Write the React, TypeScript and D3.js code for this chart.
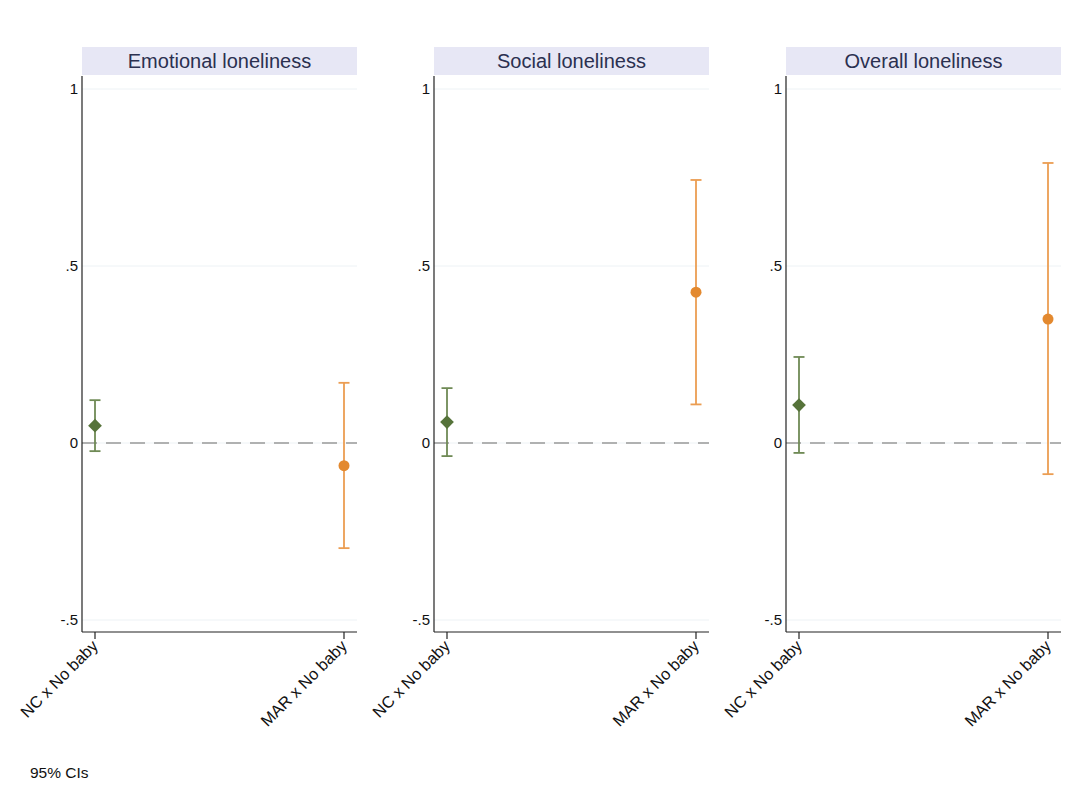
import React from "react";
import * as d3 from "d3";

// Estimates with 95% confidence intervals for each outcome
const panels = ["Emotional loneliness", "Social loneliness", "Overall loneliness"];
const groups = ["NC x No baby", "MAR x No baby"];
const estimates = [
  [0.049, -0.064],
  [0.059, 0.426],
  [0.107, 0.35],
];
const lowerCI = [
  [-0.023, -0.297],
  [-0.037, 0.109],
  [-0.028, -0.088],
];
const upperCI = [
  [0.121, 0.17],
  [0.155, 0.743],
  [0.243, 0.791],
];
const yTicks = [-0.5, 0, 0.5, 1];
const yTickLabels = ["-.5", "0", ".5", "1"];

const W = 1086;
const H = 796;
const panelLeft = [82, 434, 786];
const panelWidth = 275;
const titleTop = 47;
const titleBottom = 75;
const plotTop = 76;
const plotBottom = 632;
const groupColors = ["#56733a", "#e3892f"];
const ciColors = ["#6f8a55", "#eb9d52"];
const font = "'Liberation Sans', Arial, Helvetica, sans-serif";

const y = d3.scaleLinear().domain([-0.5, 1]).range([620, 89]);

function Panel({ idx }: { idx: number }) {
  const left = panelLeft[idx];
  const x = d3
    .scalePoint<string>()
    .domain(groups)
    .range([left + 13, left + 262]);
  const diamond = d3.symbol().type(d3.symbolDiamond2).size(120)();
  return (
    <g>
      <rect x={left} y={titleTop} width={panelWidth} height={titleBottom - titleTop} fill="#e7e7f5" />
      <text
        x={left + panelWidth / 2}
        y={(titleTop + titleBottom) / 2 + 7}
        textAnchor="middle"
        fontSize={20}
        fill="#2b3050"
        fontFamily={font}
      >
        {panels[idx]}
      </text>
      {yTicks.map((t) => (
        <line key={t} x1={left} x2={left + panelWidth} y1={y(t)} y2={y(t)} stroke="#edf2f5" strokeWidth={1} />
      ))}
      <line
        x1={left}
        x2={left + panelWidth}
        y1={y(0)}
        y2={y(0)}
        stroke="#999"
        strokeWidth={1.6}
        strokeDasharray="15 9"
      />
      <line x1={left} x2={left} y1={plotTop} y2={plotBottom} stroke="#222" strokeWidth={1.2} />
      <line x1={left} x2={left + panelWidth} y1={plotBottom} y2={plotBottom} stroke="#222" strokeWidth={1.2} />
      {yTicks.map((t, i) => (
        <text key={t} x={left - 4} y={y(t) + 5} textAnchor="end" fontSize={15} fill="#111" fontFamily={font}>
          {yTickLabels[i]}
        </text>
      ))}
      {groups.map((g, gi) => {
        const cx = x(g)!;
        return (
          <g key={g}>
            <line x1={cx} x2={cx} y1={plotBottom} y2={plotBottom + 7} stroke="#222" strokeWidth={1.2} />
            <text
              transform={`translate(${cx + 4},${plotBottom + 15}) rotate(-45)`}
              textAnchor="end"
              fontSize={16.3}
              fill="#111"
              fontFamily={font}
            >
              {g}
            </text>
            <line
              x1={cx}
              x2={cx}
              y1={y(lowerCI[idx][gi])}
              y2={y(upperCI[idx][gi])}
              stroke={ciColors[gi]}
              strokeWidth={1.8}
            />
            {[lowerCI[idx][gi], upperCI[idx][gi]].map((v, k) => (
              <line key={k} x1={cx - 5.5} x2={cx + 5.5} y1={y(v)} y2={y(v)} stroke={ciColors[gi]} strokeWidth={1.8} />
            ))}
            {gi === 0 ? (
              <path d={diamond!} transform={`translate(${cx},${y(estimates[idx][gi])})`} fill={groupColors[gi]} />
            ) : (
              <circle cx={cx} cy={y(estimates[idx][gi])} r={5.5} fill={groupColors[gi]} />
            )}
          </g>
        );
      })}
    </g>
  );
}

export default function App() {
  return (
    <svg
      width={W}
      height={H}
      style={{ position: "absolute", left: 0, top: 0, background: "#fff" }}
    >
      <rect x={0} y={0} width={W} height={H} fill="#fff" />
      {panels.map((p, i) => (
        <Panel key={p} idx={i} />
      ))}
      <text x={30} y={778} fontSize={15.5} fill="#111" fontFamily={font}>
        95% CIs
      </text>
    </svg>
  );
}
